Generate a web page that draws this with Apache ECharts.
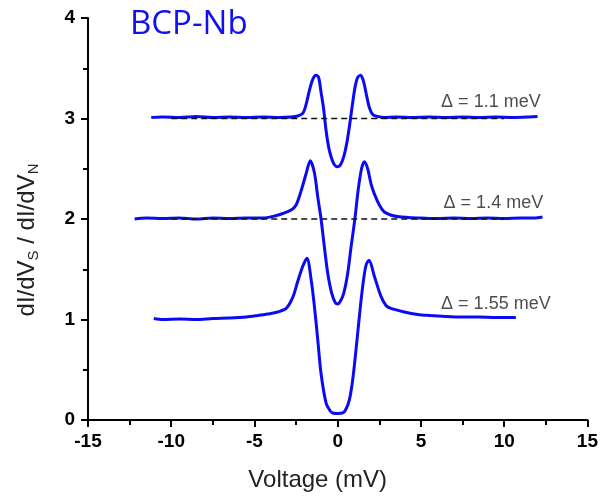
<!DOCTYPE html>
<html>
<head>
<meta charset="utf-8">
<script src="https://cdn.jsdelivr.net/npm/echarts@6/dist/echarts.min.js"></script>
<style>
  html, body { margin: 0; padding: 0; background: #fff; }
  #chart { width: 601px; height: 497px; }
</style>
</head>
<body>
<div id="chart"></div>
<script>
// Tunneling conductance spectra, each curve offset vertically by 1
const voltage_top = [-11.2, -10.5, -9.5, -8.5, -7.5, -6.5, -5.5, -4.5, -3.5, -2.8, -2.4, -2.1, -1.9, -1.7, -1.5, -1.3, -1.15, -1.0, -0.85, -0.7, -0.55, -0.4, -0.2, 0, 0.2, 0.38, 0.55, 0.72, 0.9, 1.05, 1.2, 1.38, 1.55, 1.72, 1.9, 2.1, 2.4, 2.8, 3.5, 4.5, 5.5, 6.5, 7.5, 8.5, 9.5, 10.5, 11.5, 12.0];
const cond_top = [3.01, 3.015, 3.01, 3.02, 3.01, 3.015, 3.01, 3.015, 3.01, 3.015, 3.025, 3.05, 3.14, 3.28, 3.39, 3.43, 3.41, 3.26, 3.1, 2.88, 2.72, 2.62, 2.54, 2.52, 2.55, 2.63, 2.76, 2.94, 3.16, 3.32, 3.41, 3.43, 3.37, 3.24, 3.11, 3.04, 3.02, 3.01, 3.015, 3.01, 3.015, 3.01, 3.015, 3.01, 3.015, 3.01, 3.015, 3.02];

const voltage_mid = [-12.2, -11.5, -10.5, -9.5, -8.5, -7.5, -6.5, -5.5, -4.5, -3.8, -3.3, -2.8, -2.5, -2.2, -1.9, -1.65, -1.4, -1.2, -1.0, -0.8, -0.6, -0.36, -0.15, 0, 0.15, 0.36, 0.6, 0.8, 1.03, 1.23, 1.43, 1.6, 1.8, 2.0, 2.2, 2.5, 2.8, 3.4, 4.2, 5.0, 6.0, 7.0, 8.0, 9.0, 10.0, 11.0, 11.8, 12.3];
const cond_mid = [2.0, 2.01, 2.005, 2.01, 2.0, 2.01, 2.005, 2.01, 2.01, 2.03, 2.055, 2.09, 2.14, 2.28, 2.45, 2.58, 2.46, 2.22, 2.0, 1.72, 1.46, 1.26, 1.17, 1.155, 1.18, 1.26, 1.46, 1.72, 2.0, 2.29, 2.5, 2.57, 2.5, 2.35, 2.25, 2.14, 2.07, 2.03, 2.015, 2.01, 2.005, 2.01, 2.005, 2.01, 2.005, 2.01, 2.01, 2.02];

const voltage_bot = [-11.05, -10.5, -9.5, -8.5, -7.5, -6.5, -5.5, -4.8, -4.2, -3.6, -3.1, -2.7, -2.4, -2.1, -1.85, -1.6, -1.4, -1.2, -1.0, -0.7, -0.45, -0.3, 0, 0.3, 0.5, 0.7, 0.9, 1.1, 1.3, 1.5, 1.7, 1.88, 2.2, 2.6, 2.9, 3.2, 4.0, 4.8, 5.5, 6.5, 7.5, 8.5, 9.5, 10.7];
const cond_bot = [1.01, 1.0, 1.005, 1.0, 1.01, 1.015, 1.025, 1.04, 1.055, 1.075, 1.11, 1.22, 1.38, 1.53, 1.61, 1.4, 1.13, 0.8, 0.46, 0.17, 0.09, 0.07, 0.065, 0.07, 0.11, 0.2, 0.4, 0.7, 1.03, 1.33, 1.54, 1.59, 1.43, 1.23, 1.14, 1.11, 1.075, 1.05, 1.04, 1.03, 1.025, 1.025, 1.02, 1.02];

// Normal-state reference levels for the two upper curves
const baselines = [3, 2];
const baselineRange = [-10, 10];

// Gap annotations and where they sit (voltage, conductance)
const gapLabels = ['\u0394 = 1.1 meV', '\u0394 = 1.4 meV', '\u0394 = 1.55 meV'];
const gapLabelAt = [[9.2, 3.16], [9.35, 2.16], [9.5, 1.155]];

const xTicks = [-15, 15, 5];
const yTicks = [0, 4, 1];

const zip = (xs, ys) => xs.map((x, i) => [x, ys[i]]);

const blueLine = { color: '#0a0af5', width: 3 };

const chart = echarts.init(document.getElementById('chart'), null, { renderer: 'canvas' });

const curveSeries = [[voltage_top, cond_top], [voltage_mid, cond_mid], [voltage_bot, cond_bot]].map(([xs, ys]) => ({
  type: 'line',
  data: zip(xs, ys),
  smooth: 0.3,
  showSymbol: false,
  lineStyle: blueLine,
  z: 2
}));

const baselineSeries = baselines.map(v => ({
  type: 'line',
  data: [[baselineRange[0], v], [baselineRange[1], v]],
  showSymbol: false,
  lineStyle: { color: '#111', width: 1.5, type: [6, 4] },
  z: 3
}));

const labelSeries = {
  type: 'scatter',
  symbolSize: 0,
  data: gapLabelAt.map((p, i) => ({ value: p, name: gapLabels[i] })),
  label: {
    show: true,
    position: 'inside',
    formatter: p => p.name,
    fontFamily: 'Liberation Sans, Arial, sans-serif',
    fontSize: 18,
    color: '#222'
  },
  z: 4
};

const tickFont = { fontFamily: 'Liberation Sans, Arial, sans-serif', fontWeight: 'bold', fontSize: 19, color: '#000' };

chart.setOption({
  animation: false,
  backgroundColor: '#fff',
  title: {
    text: 'BCP-Nb',
    left: 125,
    top: 3,
    textStyle: { fontFamily: 'Open Sans, sans-serif', fontWeight: 'normal', fontSize: 33, color: '#1010f0' }
  },
  grid: { left: 88, right: 9, top: 18, bottom: 77, containLabel: false },
  xAxis: {
    type: 'value',
    min: xTicks[0], max: xTicks[1], interval: xTicks[2],
    name: 'Voltage (mV)',
    nameLocation: 'middle',
    nameGap: 48,
    nameTextStyle: { fontFamily: 'Liberation Sans, Arial, sans-serif', fontSize: 24, color: '#222', padding: [0, 40, 0, 0] },
    axisLine: { show: true, onZero: false, lineStyle: { color: '#000', width: 2 } },
    axisTick: { show: true, inside: false, length: 7, lineStyle: { color: '#000', width: 2 } },
    minorTick: { show: true, splitNumber: 2, length: 5, lineStyle: { color: '#000', width: 2 } },
    axisLabel: Object.assign({ margin: 12 }, tickFont),
    splitLine: { show: false }
  },
  yAxis: {
    type: 'value',
    min: yTicks[0], max: yTicks[1], interval: yTicks[2],
    name: '{m|dI/dV}{s|S}{m| / dI/dV}{s|N}',
    nameLocation: 'middle',
    nameGap: 47,
    nameRotate: 90,
    nameTextStyle: {
      color: '#222',
      padding: [0, 42, 0, 0],
      rich: {
        m: { fontFamily: 'Liberation Sans, Arial, sans-serif', fontSize: 24, color: '#222' },
        s: { fontFamily: 'Liberation Sans, Arial, sans-serif', fontSize: 15, color: '#222', padding: [12, 0, 0, 0] }
      }
    },
    axisLine: { show: true, onZero: false, lineStyle: { color: '#000', width: 2 } },
    axisTick: { show: true, inside: false, length: 7, lineStyle: { color: '#000', width: 2 } },
    minorTick: { show: true, splitNumber: 2, length: 5, lineStyle: { color: '#000', width: 2 } },
    axisLabel: Object.assign({ margin: 13 }, tickFont),
    splitLine: { show: false }
  },
  series: [...curveSeries, ...baselineSeries, labelSeries]
});
</script>
</body>
</html>
